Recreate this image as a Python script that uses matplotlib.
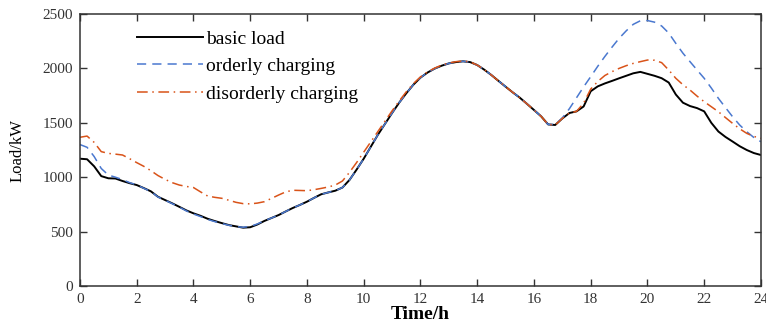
import numpy as np
import matplotlib
matplotlib.use("Agg")
import matplotlib.pyplot as plt

# =====================
# Data (every 15 min)
# =====================
hours = np.arange(0, 24.01, 0.25)

basic_load = [1170, 1165, 1100, 1010,
              990, 988, 965, 945,
              928, 900, 870, 820,
              790, 760, 728, 695,
              668, 645, 618, 597,
              578, 560, 548, 536,
              540, 565, 598, 625,
              652, 685, 717, 745,
              775, 810, 843, 860,
              876, 905, 975, 1070,
              1170, 1280, 1390, 1490,
              1590, 1685, 1771, 1850,
              1915, 1962, 1998, 2025,
              2046, 2058, 2065, 2058,
              2031, 1988, 1939, 1885,
              1832, 1780, 1731, 1675,
              1618, 1560, 1485, 1480,
              1540, 1590, 1605, 1650,
              1790, 1835, 1862, 1885,
              1909, 1932, 1955, 1968,
              1950, 1932, 1910, 1870,
              1760, 1685, 1654, 1635,
              1605, 1500, 1420, 1370,
              1328, 1285, 1250, 1222,
              1204]

orderly = [1300, 1275, 1190, 1080,
           1020, 1000, 978, 950,
           930, 898, 868, 818,
           788, 757, 725, 690,
           662, 638, 612, 592,
           574, 558, 546, 540,
           548, 570, 600, 625,
           652, 685, 717, 745,
           775, 810, 843, 860,
           876, 905, 975, 1070,
           1170, 1280, 1390, 1490,
           1590, 1685, 1771, 1850,
           1915, 1962, 1998, 2025,
           2046, 2058, 2065, 2058,
           2031, 1988, 1939, 1885,
           1832, 1780, 1731, 1675,
           1618, 1560, 1485, 1485,
           1545, 1630, 1730, 1830,
           1924, 2020, 2110, 2195,
           2276, 2345, 2405, 2438,
           2440, 2425, 2390, 2325,
           2230, 2140, 2062, 1985,
           1909, 1820, 1725, 1640,
           1556, 1480, 1418, 1365,
           1326]

disorderly = [1367, 1378, 1320, 1235,
              1219, 1212, 1204, 1170,
              1134, 1100, 1060, 1015,
              980, 950, 928, 915,
              905, 865, 827, 815,
              806, 788, 769, 757,
              755, 762, 775, 805,
              836, 865, 880, 878,
              876, 885, 897, 910,
              928, 965, 1045, 1135,
              1230, 1325, 1420, 1515,
              1610, 1700, 1785, 1860,
              1922, 1968, 2003, 2030,
              2050, 2062, 2068, 2060,
              2031, 1988, 1939, 1885,
              1832, 1780, 1731, 1675,
              1618, 1560, 1485, 1480,
              1540, 1590, 1605, 1680,
              1810, 1880, 1935, 1970,
              2000, 2025, 2046, 2062,
              2077, 2075, 2053, 1985,
              1909, 1850, 1801, 1745,
              1694, 1648, 1602, 1548,
              1495, 1445, 1403, 1375,
              1357]

# =====================
# Plot
# =====================
plt.rcParams['font.family'] = ['Liberation Serif', 'DejaVu Serif']

fig = plt.figure(figsize=(7.66, 3.22), dpi=100)
ax = fig.add_axes([0.1044, 0.1118, 0.889, 0.8447])

ax.plot(hours, basic_load, color='black', lw=1.4, label='basic load')
ax.plot(hours, orderly, color='#4a78cf', lw=1.1, ls=(0, (6, 4)), label='orderly charging')
ax.plot(hours, disorderly, color='#d95319', lw=1.1, ls=(0, (7, 3, 1, 3)), label='disorderly charging')

ax.set_xlim(0, 24)
ax.set_ylim(0, 2500)
ax.set_xticks(range(0, 25, 2))
ax.set_yticks(range(0, 2501, 500))
ax.tick_params(direction='in', top=True, right=True, length=5, width=1,
               labelsize=11, colors='#333333', pad=5)
for s in ax.spines.values():
    s.set_linewidth(1.1)
    s.set_color('#333333')

ax.set_xlabel('Time/h', fontsize=14, fontweight='bold', labelpad=0)
ax.set_ylabel('Load/kW', fontsize=12)
ax.yaxis.set_label_coords(-0.08, 0.5)

leg = ax.legend(loc='upper left', bbox_to_anchor=(0.0837, 0.94), frameon=False,
                fontsize=14, handlelength=3.4, handletextpad=0.15,
                labelspacing=0.5, borderpad=0, borderaxespad=0)

fig.savefig('out.png', dpi=100)
